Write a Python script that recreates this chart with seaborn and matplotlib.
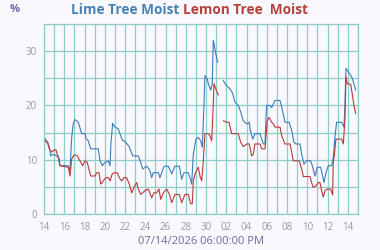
import numpy as np
import pandas as pd
import matplotlib
matplotlib.use("Agg")
import matplotlib.pyplot as plt
import seaborn as sns

# =========================
# Data (days since 14 Jun, moisture %)
# NaN marks a gap in the log
# =========================
lime_days = [0.10, 0.37, 0.52, 0.66, 0.89, 1.25, 1.38, 1.58, 2.40, 2.57, 2.73, 2.89, 3.06, 3.39,
             3.72, 4.05, 4.15, 4.37, 4.61, 5.36, 5.53, 5.76, 6.02, 6.35, 6.52, 6.61, 6.78, 7.01,
             7.33, 7.57, 7.77, 7.90, 8.16, 8.42, 8.49, 8.76, 9.31, 9.55, 9.74, 10.14, 10.46, 10.63,
             10.79, 11.28, 11.45, 11.62, 11.85, 12.27, 12.61, 12.93, 13.36, 13.59, 13.82, 14.24,
             14.41, 14.58, 14.74, 15.00, 15.23, 15.47, 15.63, 15.79, 15.89, 16.12, 16.22, 16.46,
             16.61, 16.71, 16.81, 16.95, 17.15, 17.40, 17.70, 17.97, 18.36, 18.63, 18.85, 19.18,
             19.42, 19.67, 20.01, 20.27, 20.34, 20.60, 20.83, 21.32, 21.49, 21.65, 21.82, 21.92,
             21.98, 22.31, 22.48, 22.81, 23.30, 23.47, 23.79, 24.21, 24.45, 24.68, 24.88, 25.27,
             25.44, 25.67, 25.93, 26.33, 26.53, 26.75, 26.98, 27.32, 27.51, 27.64, 27.84, 28.07,
             28.40, 28.56, 28.73, 28.89, 29.39, 29.61, 29.71, 29.81, 29.94, 30.14, 30.37, 30.60,
             30.77]
lime_vals = [13.9, 13.2, 12.3, 10.7, 11.0, 10.7, 10.5, 8.9, 8.9, 8.0, 14.0, 16.7, 17.4, 16.9,
             14.8, 14.8, 13.9, 13.5, 12.0, 12.0, 9.8, 8.9, 9.5, 9.8, 8.9, 13.0, 16.7, 16.0,
             15.7, 14.4, 13.5, 13.5, 13.0, 12.4, 12.0, 10.7, 10.7, 9.5, 8.3, 8.8, 8.0, 6.7,
             7.6, 7.6, 6.7, 7.6, 8.8, 8.8, 7.4, 8.8, 8.8, 6.4, 7.6, 7.6,
             6.7, 5.5, 11.0, 13.8, 14.1, 13.5, 12.3, 20.0, 25.5, 24.9, 24.0, 22.8,
             24.0, 32.0, 31.1, 29.6, 27.9, np.nan, 24.6, 23.7, 23.1, 22.2, 20.6, 20.0,
             18.8, 17.2, 16.6, 16.9, 15.7, 13.8, 14.8, 14.8, 13.8, 12.9, 12.9, 18.1,
             20.0, 20.0, 19.6, 20.9, 20.9, 19.7, 16.9, 16.9, 15.4, 13.2, 12.9, 12.9,
             11.0, 9.2, 9.8, 9.8, 8.6, 7.0, 8.6, 8.6, 7.0, 5.8, 7.6, 8.9,
             8.9, 10.4, 14.4, 16.9, 16.9, 16.0, 20.0, 26.8, 26.5, 25.9, 25.3, 24.0,
             22.8]

lemon_days = [0.10, 0.37, 0.52, 0.76, 0.99, 1.18, 1.31, 1.51, 1.58, 2.40, 2.57, 2.73, 2.96, 3.29,
              3.55, 3.82, 4.05, 4.27, 4.61, 5.03, 5.20, 5.43, 5.60, 5.85, 6.12, 6.35, 6.52, 6.74,
              7.01, 7.24, 7.43, 7.67, 7.90, 8.16, 8.42, 8.66, 8.88, 9.15, 9.31, 9.55, 9.97, 10.30,
              10.63, 10.86, 11.12, 11.35, 11.52, 11.78, 12.11, 12.37, 12.61, 12.93, 13.36, 13.59,
              13.92, 14.24, 14.48, 14.64, 14.74, 14.91, 15.07, 15.23, 15.40, 15.57, 15.73, 15.89,
              16.22, 16.39, 16.56, 16.71, 16.78, 16.95, 17.21, 17.40, 17.70, 18.03, 18.26, 18.53,
              19.18, 19.42, 19.67, 20.01, 20.27, 20.50, 20.66, 20.83, 21.32, 21.49, 21.82, 21.92,
              22.04, 22.21, 22.48, 22.64, 22.81, 23.30, 23.47, 23.79, 24.29, 24.45, 24.61, 25.20,
              25.44, 25.60, 26.26, 26.42, 26.58, 26.85, 27.08, 27.24, 27.41, 27.57, 27.74, 27.97,
              28.30, 28.50, 28.56, 28.66, 28.82, 29.39, 29.55, 29.71, 29.81, 29.94, 30.28, 30.48,
              30.60, 30.77]
lemon_vals = [13.5, 13.0, 12.0, 11.4, 11.8, 11.8, 11.0, 10.1, 8.9, 8.6, 7.0, 10.1, 10.9, 10.7,
              9.8, 8.9, 9.8, 9.5, 7.0, 7.0, 7.6, 7.6, 5.5, 6.1, 6.7, 6.7, 6.1, 7.4,
              7.6, 7.6, 6.7, 6.1, 6.7, 6.7, 5.5, 3.9, 4.9, 5.8, 4.6, 3.6, 4.3, 4.6,
              3.0, 3.9, 3.9, 4.6, 2.7, 3.9, 4.6, 3.7, 2.1, 3.6, 3.6, 2.1,
              3.6, 3.6, 1.9, 1.9, 6.1, 7.4, 8.0, 8.6, 7.0, 6.1, 9.8, 14.8,
              14.8, 14.4, 13.5, 20.0, 24.0, 23.1, 21.9, np.nan, 17.2, 16.9, 16.9, 14.8,
              14.8, 13.2, 12.4, 12.9, 12.9, 10.7, 11.0, 12.9, 12.9, 12.0, 12.0, 14.4,
              17.2, 17.8, 16.9, 16.6, 16.0, 16.0, 14.4, 12.9, 12.9, 11.4, 9.8, 9.8,
              8.3, 6.9, 6.9, 5.8, 4.9, 5.2, 5.8, 5.8, 4.3, 3.1, 4.3, 4.6,
              4.6, 3.5, 9.8, 10.7, 13.8, 13.8, 12.9, 17.5, 25.3, 24.0, 23.9, 21.5,
              20.0, 18.5]

tick_days = list(range(0, 31, 2))
tick_labels = ["14", "16", "18", "20", "22", "24", "26", "28", "30",
               "02", "04", "06", "08", "10", "12", "14"]
y_ticks = [0, 10, 20, 30]

lime_color = "#3b7dbd"
lemon_color = "#b83a3a"
grid_color = "#8fcdc9"
bg_color = "#f9f8fd"


def to_frame(days, vals, name):
    df = pd.DataFrame({"day": days, "value": vals})
    df["segment"] = df["value"].isna().cumsum()
    df = df.dropna()
    df["series"] = name
    return df


data = pd.concat([to_frame(lime_days, lime_vals, "Lime"),
                  to_frame(lemon_days, lemon_vals, "Lemon")], ignore_index=True)

# =========================
# Plot
# =========================
sns.set_style("white")
plt.rcParams["font.family"] = ["Open Sans", "DejaVu Sans"]

fig = plt.figure(figsize=(3.8, 2.5), dpi=100, facecolor=bg_color)
ax = fig.add_axes([44 / 380, 1 - 214 / 250, 314 / 380, 190 / 250])
ax.set_facecolor(bg_color)

sns.lineplot(data=data, x="day", y="value", hue="series", units="segment",
             estimator=None, sort=False, palette={"Lime": lime_color, "Lemon": lemon_color},
             hue_order=["Lime", "Lemon"], linewidth=0.8, legend=False, ax=ax, zorder=3)

ax.set_xlim(0, 31)
ax.set_ylim(0, 35)
ax.set_xticks(tick_days)
ax.set_xticklabels(tick_labels)
ax.set_xticks(np.arange(0, 32, 1), minor=True)
ax.set_yticks(y_ticks)
ax.set_yticks(np.arange(0, 36, 5), minor=True)
ax.grid(True, which="both", color=grid_color, linewidth=0.9)
ax.tick_params(which="both", length=0, labelsize=7, labelcolor="#9a9a9a")
ax.tick_params(axis="x", pad=6)
ax.tick_params(axis="y", pad=5)
for sp in ax.spines.values():
    sp.set_color(grid_color)
    sp.set_linewidth(0.9)

ax.set_xlabel("07/14/2026 06:00:00 PM", fontsize=8, color="#6e6aa0", labelpad=2)
ax.set_ylabel("")

fig.text(15 / 380, 1 - 9 / 250, "%", fontsize=8, fontweight="bold",
         color="#6e6aa0", ha="center", va="center")
fig.text(179 / 380, 1 - 10 / 250, "Lime Tree Moist", fontsize=9.8, fontweight="bold",
         color="#4682b4", ha="right", va="center")
fig.text(183 / 380, 1 - 10 / 250, "Lemon Tree  Moist", fontsize=9.8, fontweight="bold",
         color="#b5413f", ha="left", va="center")

fig.savefig("out.png", dpi=100, facecolor=bg_color)
